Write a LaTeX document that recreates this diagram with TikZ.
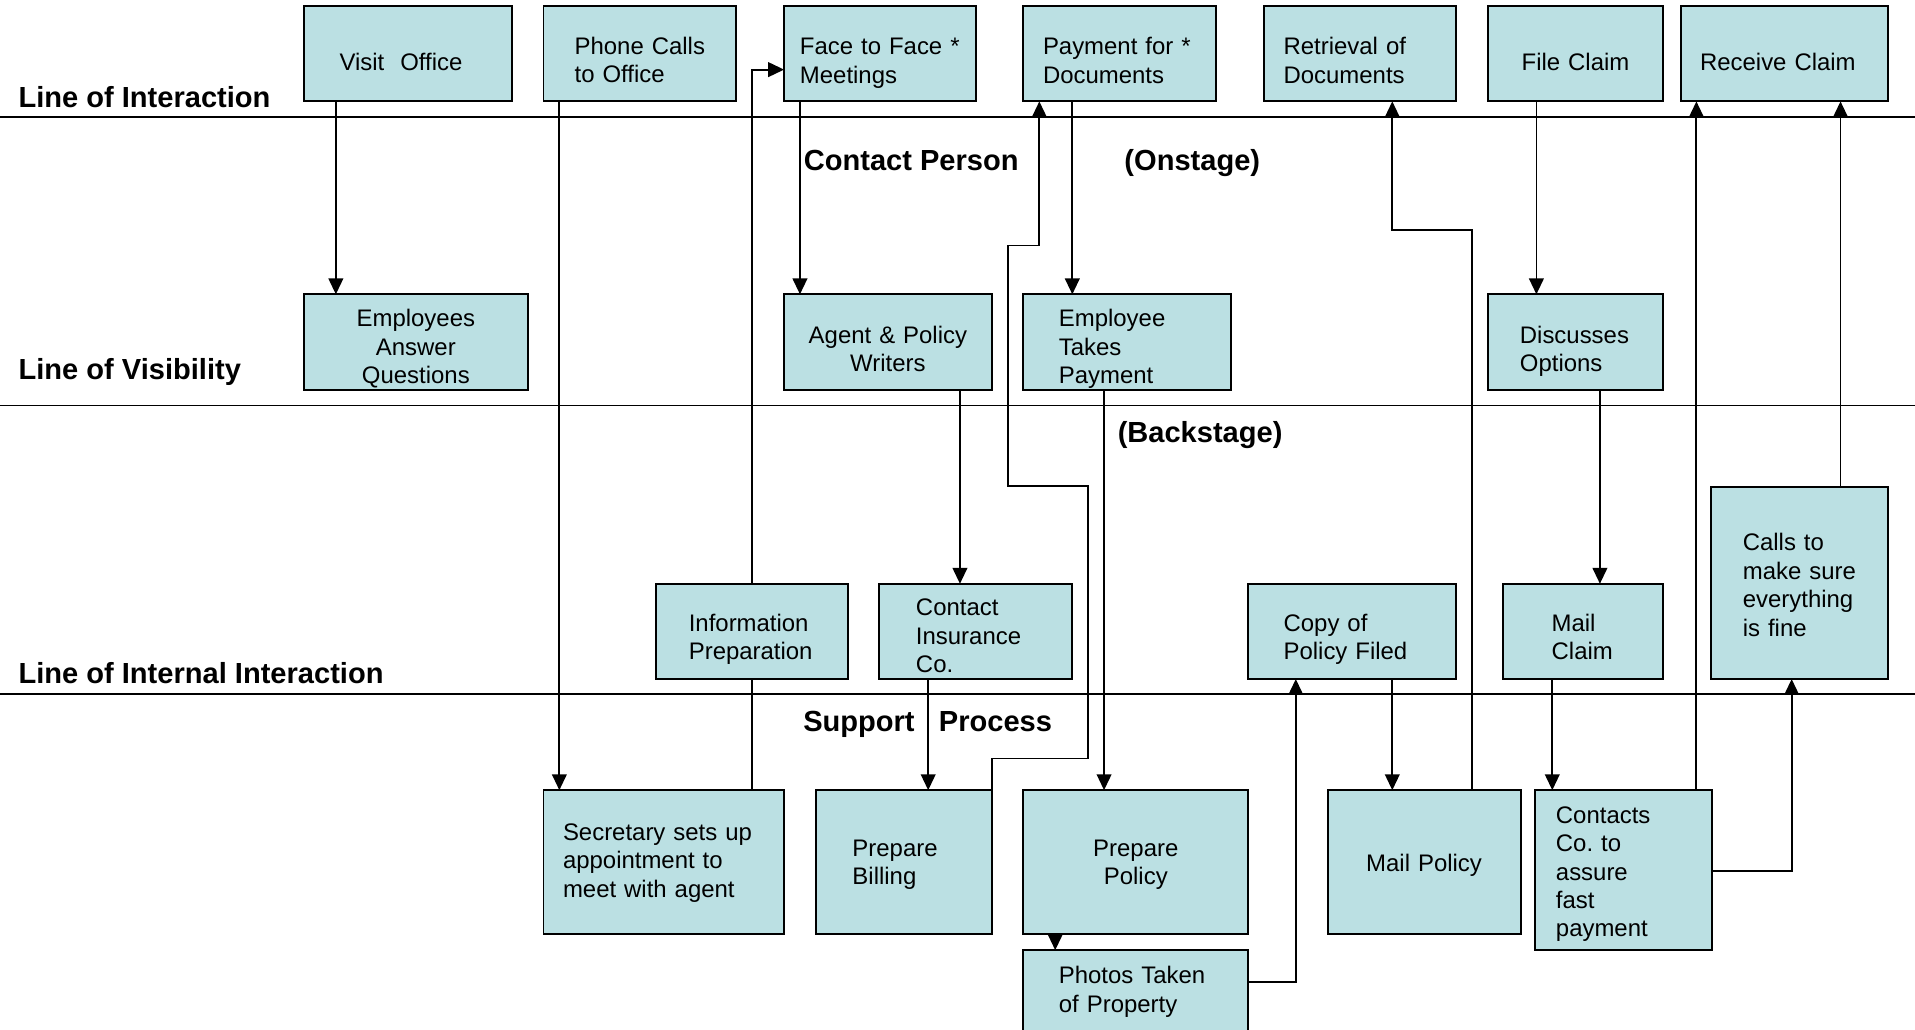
\documentclass[tikz,border=0pt]{standalone}
\usepackage{fontspec}
\setmainfont{Liberation Sans}
\usetikzlibrary{
  arrows.meta,  % Tip "Triangle"
}
\definecolor{boxfill}{RGB}{187,224,227}
\def\myboxfont{\fontsize{19.6}{23.3}\selectfont}
\def\mylabelfont{\fontsize{23.8}{28}\selectfont\bfseries}
\tikzset{
  >={Triangle[length=13pt,width=12pt]},
  my box/.style={
    draw,
    fill=boxfill,
    line width=1.6pt,
    rectangle,
    inner sep=0pt,
    outer sep=0pt,
    align=left,
    font=\myboxfont
  },
  box size/.style 2 args={
    minimum width=#1pt,
    minimum height=#2pt
  },
  % text width, height above and depth below the first baseline
  txt/.style n args={3}{
    text width=#1pt,
    text height=#2pt,
    text depth=#3pt
  },
  my label/.style={
    anchor=base west,
    inner sep=0pt,
    font=\mylabelfont
  },
  my line/.style={
    line width=1.5pt
  },
  my flow/.style={
    my line,
    ->
  }
}

\begin{document}
\begin{tikzpicture}[x=1pt,y=-1pt]
\useasboundingbox (0,0) rectangle (1568,843);

% lines and their labels
\draw[line width=1.3pt] (0,96)  -- (1568,96);
\draw[line width=1.3pt] (0,332) -- (1568,332);
\draw[line width=1.3pt] (0,568) -- (1568,568);
\node[my label] (interaction) at (15,88)    {Line of Interaction};
\node[my label] (visibility)  at (15,310.6) {Line of Visibility};
\node[my label] (internal)    at (15,559.7) {Line of Internal Interaction};
\node[my label] (person)      at (658,139.7) {Contact Person};
\node[my label] (onstage)     at (920.5,139.7) {(Onstage)};
\node[my label] (backstage)   at (915,362)   {(Backstage)};
\node[my label] (support)     at (657.5,598.8) {Support\ \ \ Process};

% customer
\node[my box, box size={170}{78}, txt={112}{27}{0}]  (visit)   at (334,44)    {Visit\ \ Office};
\node[my box, box size={158}{78}, txt={107}{16}{15}] (phone)   at (524,44)    {Phone Calls\\to Office};
\node[my box, box size={157}{78}, txt={131}{17}{15}] (face)    at (720.5,44)  {Face to Face *\\Meetings};
\node[my box, box size={158}{78}, txt={126}{17}{15}] (pay)     at (917,44)    {Payment for *\\Documents};
\node[my box, box size={157}{78}, txt={125}{17}{15}] (retr)    at (1113.5,44) {Retrieval of\\Documents};
\node[my box, box size={144}{78}, txt={120}{27}{0}, align=center] (file) at (1290,44) {File Claim};
\node[my box, box size={170}{78}, txt={138}{27}{0}]  (receive) at (1461,44)   {Receive Claim};

% onstage
\node[my box, box size={183}{78}, txt={150}{15}{40}, align=center] (answer) at (340.5,280) {Employees\\Answer\\Questions};
\node[my box, box size={170}{78}, txt={150}{17}{15}, align=center] (agent)  at (727,280)   {Agent \& Policy\\Writers};
\node[my box, box size={170}{78}, txt={112}{15}{40}] (takes)   at (923,280)  {Employee\\Takes\\Payment};
\node[my box, box size={144}{78}, txt={91}{17}{15}]  (discuss) at (1290,280) {Discusses\\Options};

% backstage
\node[my box, box size={157}{78}, txt={103}{15}{15}] (info)      at (615.5,517)  {Information\\Preparation};
\node[my box, box size={158}{78}, txt={98}{15}{41}]  (contact)   at (799,517)    {Contact\\Insurance\\Co.};
\node[my box, box size={170}{78}, txt={112}{15}{15}] (copy)      at (1107,517)   {Copy of\\Policy Filed};
\node[my box, box size={131}{78}, txt={52}{15}{15}]  (mailclaim) at (1296.5,517) {Mail\\Claim};
\node[my box, box size={145}{157}, txt={93}{15}{68}] (calls)     at (1473.5,477.5) {Calls to\\make sure\\everything\\is fine};

% support
\node[my box, box size={197}{118}, txt={165}{15}{51}] (secretary) at (543.5,706) {Secretary sets up\\appointment to\\meet with agent};
\node[my box, box size={144}{118}, txt={84}{15}{25}]  (billing)   at (740,706)   {Prepare\\Billing};
\node[my box, box size={184}{118}, txt={120}{15}{25}, align=center] (prepol)  at (930,706)  {Prepare\\Policy};
\node[my box, box size={158}{118}, txt={120}{14.8}{0}, align=center] (mailpol) at (1166,706) {Mail Policy};
\node[my box, box size={145}{131}, txt={111}{15}{92}] (contacts)  at (1329.5,712.5) {Contacts\\Co.\ to\\assure\\fast\\payment};
\node[my box, box size={184}{82}, txt={126}{15}{42}]  (photos)    at (930,819)   {Photos Taken\\of Property};

% flow
\draw[my flow] ([xshift=26pt]visit.south west) -- ([xshift=26pt]answer.north west);
\draw[my flow] ([xshift=13pt]phone.south west) -- ([xshift=13pt]secretary.north west);
\draw[my line] (secretary.north -| info.south) -- (info.south);
\draw[my flow] (info.north) |- ([yshift=-13pt]face.west);
\draw[my flow] ([xshift=13pt]face.south west) -- ([xshift=13pt]agent.north west);
\draw[my flow] ([xshift=-26pt]agent.south east) -- ([xshift=66pt]contact.north west);
\draw[my flow] ([xshift=40pt]contact.south west) -- ([xshift=92pt]billing.north west);
\draw[my flow] (billing.north east) |- (891,621) |- (825,398) |- (851,201) -- ([xshift=13pt]pay.south west);
\draw[my flow] ([xshift=40pt]pay.south west) -- ([xshift=40pt]takes.north west);
\draw[my flow] ([xshift=66pt]takes.south west) -- ([xshift=66pt]prepol.north west);
\draw[my flow] ([xshift=26pt]prepol.south west) -- ([xshift=26pt]photos.north west);
\draw[my flow] ([yshift=-26pt]photos.north east) -| ([xshift=39pt]copy.south west);
\draw[my flow] ([xshift=118pt]copy.south west) -- ([xshift=53pt]mailpol.north west);
\draw[my flow] ([xshift=118pt]mailpol.north west) |- (1140,188) -- ([xshift=105pt]retr.south west);
\draw[my flow] ([xshift=40pt]file.south west) -- ([xshift=40pt]discuss.north west);
\draw[my flow] ([xshift=92pt]discuss.south west) -- ([xshift=79pt]mailclaim.north west);
\draw[my flow] ([xshift=40pt]mailclaim.south west) -- ([xshift=14pt]contacts.north west);
\draw[my flow] ([xshift=-13pt]contacts.north east) -- ([xshift=13pt]receive.south west);
\draw[my flow] ([yshift=-66pt]contacts.north east) -| ([xshift=66pt]calls.south west);
\draw[my flow] ([xshift=106pt]calls.north west) -- ([xshift=-39pt]receive.south east);
\end{tikzpicture}
\end{document}
